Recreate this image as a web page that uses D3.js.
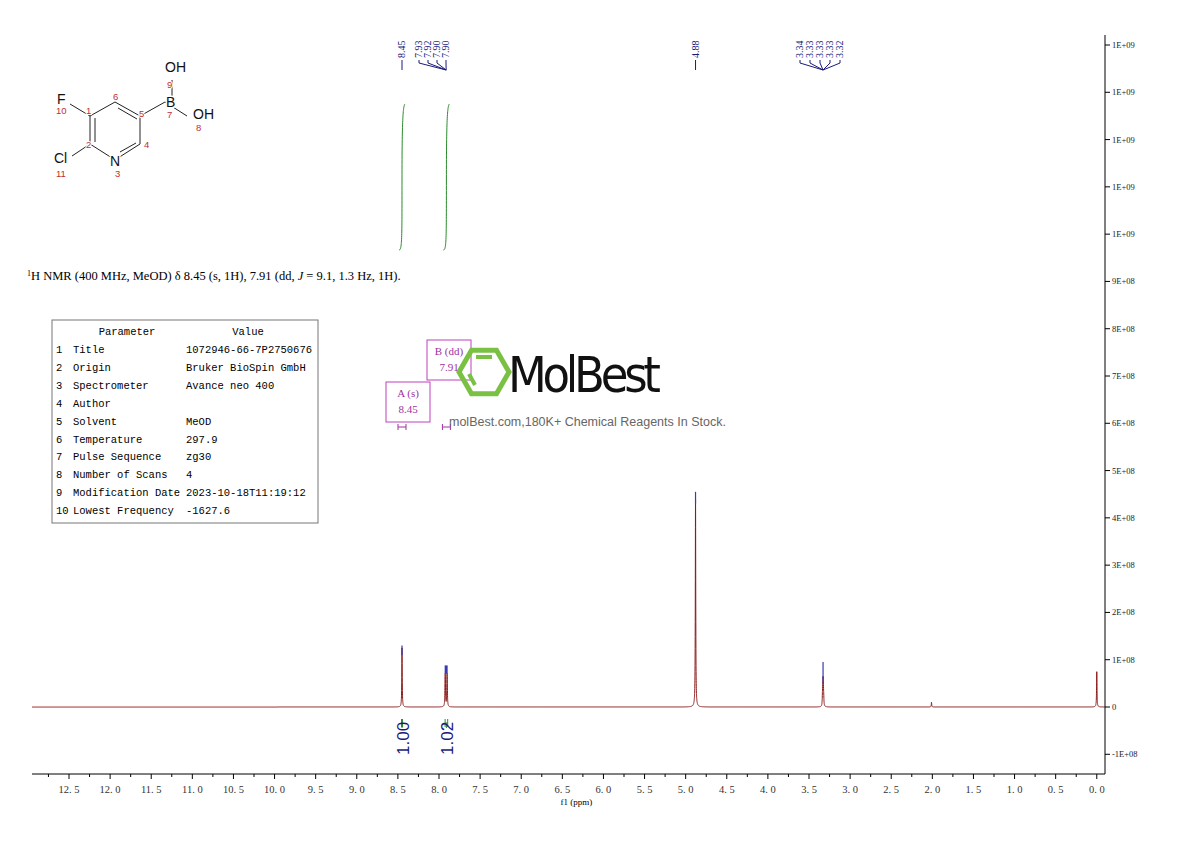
<!DOCTYPE html>
<html><head><meta charset="utf-8">
<script src="https://cdn.jsdelivr.net/npm/d3@7"></script>
<style>body{margin:0;background:#fff}svg{font-family:"Liberation Serif",serif}</style>
</head><body><svg id="c" width="1190" height="841"></svg>
<script>
const peakPpm = [8.45, 7.926, 7.923, 7.903, 7.900, 4.88, 3.337, 3.333, 3.329, 3.325, 3.321, 2.01, 0.0];
const peakHeight = [1.25e8, 0.42e8, 0.45e8, 0.45e8, 0.42e8, 4.4e8, 0.12e8, 0.28e8, 0.42e8, 0.28e8, 0.12e8, 0.1e8, 0.75e8];
const peakLabels = ["8.45","7.93","7.92","7.90","7.90","4.88","3.34","3.33","3.33","3.33","3.32"];
const xTicks = [12.5,12.0,11.5,11.0,10.5,10.0,9.5,9.0,8.5,8.0,7.5,7.0,6.5,6.0,5.5,5.0,4.5,4.0,3.5,3.0,2.5,2.0,1.5,1.0,0.5,0.0];
const yTicks = [-1e8,0,1e8,2e8,3e8,4e8,5e8,6e8,7e8,8e8,9e8,1.0e9,1.1e9,1.2e9,1.3e9,1.4e9];
const yTickLabels = ["-1E+08","0","1E+08","2E+08","3E+08","4E+08","5E+08","6E+08","7E+08","8E+08","9E+08","1E+09","1E+09","1E+09","1E+09","1E+09"];
const integrals = [{from:8.48,to:8.42,val:"1.00"},{from:7.95,to:7.87,val:"1.02"}];
const params = [["1","Title","1072946-66-7P2750676"],["2","Origin","Bruker BioSpin GmbH"],["3","Spectrometer","Avance neo 400"],["4","Author",""],["5","Solvent","MeOD"],["6","Temperature","297.9"],["7","Pulse Sequence","zg30"],["8","Number of Scans","4"],["9","Modification Date","2023-10-18T11:19:12"],["10","Lowest Frequency","-1627.6"]];

const svg = d3.select("#c");
const x = d3.scaleLinear().domain([12.95,-0.1]).range([32,1105]);
const y = d3.scaleLinear().domain([0,1.4e9]).range([707,45]);

const pts = [];
for (let p = 12.95; p >= -0.1; p -= 0.0006) {
  let v = 0;
  peakPpm.forEach((c,i)=>{const w=0.003; v += peakHeight[i]*w*w/((p-c)*(p-c)+w*w);});
  pts.push([p,v]);
}
svg.append("path").datum(pts).attr("fill","none").attr("stroke","#8b1a1a").attr("stroke-width",1)
  .attr("d",d3.line().x(d=>x(d[0])).y(d=>y(d[1])));
// blue tips
[[8.45,1.3e8,1.1e8],[7.913,0.88e8,0.7e8],[4.88,4.55e8,4.3e8],[3.329,0.95e8,0.5e8]].forEach(([c,a,b])=>svg.append("line").attr("x1",x(c)).attr("x2",x(c)).attr("y1",y(a)).attr("y2",y(b)).attr("stroke","#3a3ab0").attr("stroke-width",x(c)>440&&x(c)<460?3:1.2));

const ax = svg.append("g").attr("transform","translate(0,774)");
ax.append("line").attr("x1",32).attr("x2",1105).attr("stroke","#000");
xTicks.forEach(t=>{ax.append("line").attr("x1",x(t)).attr("x2",x(t)).attr("y1",0).attr("y2",5).attr("stroke","#000");
 ax.append("line").attr("x1",x(t+0.25)).attr("x2",x(t+0.25)).attr("y1",0).attr("y2",3).attr("stroke","#000");
 ax.append("text").attr("x",x(t)).attr("y",19).attr("text-anchor","middle").attr("font-size",10.5).attr("fill","#333").text(t.toFixed(1).replace("."," . ").replace(/ \. /,". "));});
ax.append("text").attr("x",x(6.33)).attr("y",31).attr("text-anchor","middle").attr("font-size",9).text("f1 (ppm)");

const ay = svg.append("g");
ay.append("line").attr("x1",1105).attr("x2",1105).attr("y1",35).attr("y2",774).attr("stroke","#000");
yTicks.forEach((t,i)=>{ay.append("line").attr("x1",1105).attr("x2",1110).attr("y1",y(t)).attr("y2",y(t)).attr("stroke","#000");
 ay.append("text").attr("x",1112).attr("y",y(t)+3).attr("font-size",8.5).attr("fill","#222").text(yTickLabels[i]);});

const groups = [[0,1,[x(8.45)]],[1,5,[419,428,437,446]],[5,6,[x(4.88)]],[6,11,[800,810,820,830,840]]];
groups.forEach(([s,e,xs])=>{
  const cx = d3.mean(peakPpm.slice(s,e).map(x));
  xs.forEach((lx,k)=>{const i=s+k;
    svg.append("text").attr("transform",`translate(${lx+3},58) rotate(-90)`).attr("font-size",10).attr("fill","#1a1a7a").text(peakLabels[i]);
    svg.append("path").attr("fill","none").attr("stroke","#1a1a7a").attr("d", e-s===1?`M${lx},60V70`:`M${lx},60V63L${cx},70`);
  });
});

integrals.forEach(g=>{const cx=(x(g.from)+x(g.to))/2;
 svg.append("path").attr("fill","none").attr("stroke","#2a8a2a").attr("d",`M${cx-3},250C${cx},250 ${cx},240 ${cx},180S${cx+1},106 ${cx+3},104`);
 svg.append("path").attr("fill","none").attr("stroke","#2a8a2a").attr("d",`M${x(g.from)+2},723H${x(g.to)-2}M${x(g.from)+2},719V727M${x(g.to)-2},719V727M${cx},723V728`);
 svg.append("text").attr("transform",`translate(${cx+7},755) rotate(-90)`).attr("font-size",17).attr("font-family","Liberation Sans").attr("fill","#1a1a7a").text(g.val);});

const t=svg.append("text").attr("x",27).attr("y",280).attr("font-size",12.5);
t.append("tspan").attr("font-size",8).attr("dy",-4).text("1");
t.append("tspan").attr("dy",4).text("H NMR (400 MHz, MeOD) δ 8.45 (s, 1H), 7.91 (dd, ");
t.append("tspan").attr("font-style","italic").text("J");
t.append("tspan").text(" = 9.1, 1.3 Hz, 1H).");

svg.append("rect").attr("x",52).attr("y",320).attr("width",266).attr("height",203).attr("fill","none").attr("stroke","#777");
const mono = "Liberation Mono";
const fs=10.5;
svg.append("text").attr("x",127).attr("y",335).attr("font-size",fs).attr("font-family",mono).attr("text-anchor","middle").text("Parameter");
svg.append("text").attr("x",248).attr("y",335).attr("font-size",fs).attr("font-family",mono).attr("text-anchor","middle").text("Value");
params.forEach((r,i)=>{const yy=353+i*17.9;
 svg.append("text").attr("x",56).attr("y",yy).attr("font-size",fs).attr("font-family",mono).text(r[0]);
 svg.append("text").attr("x",73).attr("y",yy).attr("font-size",fs).attr("font-family",mono).text(r[1]);
 svg.append("text").attr("x",186).attr("y",yy).attr("font-size",fs).attr("font-family",mono).text(r[2]);});

[[386,382,"A (s)","8.45",x(8.45)],[427,340,"B (dd)","7.91",x(7.91)]].forEach(([bx,by,l1,l2,px])=>{
 svg.append("rect").attr("x",bx).attr("y",by).attr("width",44).attr("height",40).attr("fill","none").attr("stroke","#c040c0");
 svg.append("text").attr("x",bx+22).attr("y",by+15).attr("text-anchor","middle").attr("font-size",11).attr("font-family","Liberation Serif").attr("fill","#a030a0").text(l1);
 svg.append("text").attr("x",bx+22).attr("y",by+31).attr("text-anchor","middle").attr("font-size",11).attr("font-family","Liberation Serif").attr("fill","#a030a0").text(l2);
 svg.append("path").attr("stroke","#a030a0").attr("fill","none").attr("d",`M${px-4},424V430M${px+4},424V430M${px-4},427H${px+4}`);});

const hx=484,hy=372,r=25;
svg.append("polygon").attr("points",d3.range(6).map(k=>{const a=Math.PI/3*k;return [hx+r*Math.cos(a),hy+r*Math.sin(a)].join(",");}).join(" ")).attr("fill","none").attr("stroke","#7ac143").attr("stroke-width",5);
svg.append("path").attr("stroke","#7ac143").attr("stroke-width",4).attr("fill","none").attr("d",`M${hx-8},${hy-15}H${hx+8}M${hx-15},${hy+2}L${hx-9},${hy+13}`);
svg.append("text").attr("x",508).attr("y",392).attr("font-size",50).attr("font-family","DejaVu Sans Condensed").attr("textLength",153).attr("fill","#111").text("MolBest");
svg.append("text").attr("x",449).attr("y",426).attr("font-size",12.5).attr("font-family","Liberation Sans").attr("fill","#666").text("molBest.com,180K+ Chemical Reagents In Stock.");

const S = svg.append("g").attr("font-family","Liberation Sans");
const bonds=[[90,116,115,102],[115,102,140,116],[140,116,140,144],[140,144,118,158],[90,116,90,144],[90,144,112,158],[90,116,70,104],[90,144,72,156],[140,116,165,102],[165,102,187,116],[172,98,172,80]];
bonds.forEach(b=>S.append("line").attr("x1",b[0]).attr("y1",b[1]).attr("x2",b[2]).attr("y2",b[3]).attr("stroke","#222"));
[[95,118,95,142],[118,108,137,119],[120,152,136,143]].forEach(b=>S.append("line").attr("x1",b[0]).attr("y1",b[1]).attr("x2",b[2]).attr("y2",b[3]).attr("stroke","#222"));
[["F",57,104],["B",166,107],["OH",165,72],["OH",193,119],["N",110,166],["Cl",54,163]].forEach(a=>S.append("text").attr("x",a[1]).attr("y",a[2]).attr("font-size",14).attr("fill","#111").attr("stroke","#fff").attr("stroke-width",3).attr("paint-order","stroke").text(a[0]));
[["10",56,114],["1",86,114],["6",113,100],["5",139,117],["7",167,118],["9",167,88],["8",196,131],["4",144,148],["2",86,148],["3",115,177],["11",56,177]].forEach(a=>S.append("text").attr("x",a[1]).attr("y",a[2]).attr("font-size",9.5).attr("fill","#c03030").attr("stroke","#fff").attr("stroke-width",2).attr("paint-order","stroke").text(a[0]));
</script></body></html>
